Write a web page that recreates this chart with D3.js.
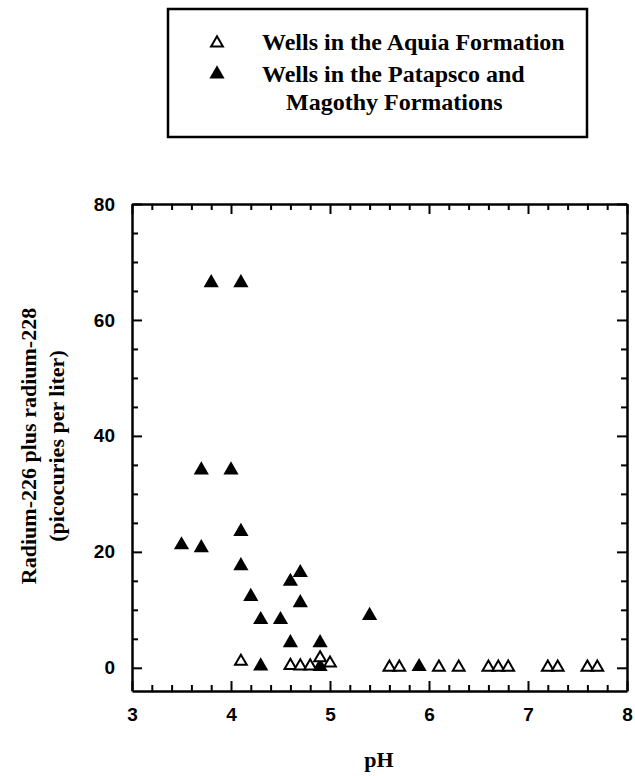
<!DOCTYPE html>
<html>
<head>
<meta charset="utf-8">
<script src="https://cdn.jsdelivr.net/npm/d3@7"></script>
<style>
  body { margin: 0; background: #fff; }
  svg { display: block; }
  .serif { font-family: "Liberation Serif", "Times New Roman", serif; font-weight: bold; fill: #000; }
  .tick text { font-family: "Liberation Sans", Arial, sans-serif; font-weight: bold; font-size: 19px; fill: #000; }
</style>
</head>
<body>
<div id="chart"></div>
<script>
// Wells in the Aquia Formation (open triangles)
const aquiaPH = [4.1, 4.6, 4.7, 4.8, 4.9, 5.0, 5.6, 5.7, 6.1, 6.3, 6.6, 6.7, 6.8, 7.2, 7.3, 7.6, 7.7];
const aquiaRa = [1.1, 0.4, 0.3, 0.3, 1.7, 0.8, 0.1, 0.1, 0.1, 0.1, 0.1, 0.1, 0.1, 0.1, 0.1, 0.1, 0.1];

// Wells in the Patapsco and Magothy Formations (filled triangles)
const pmPH = [3.5, 3.7, 3.7, 3.8, 4.0, 4.1, 4.1, 4.1, 4.2, 4.3, 4.3, 4.5, 4.6, 4.6, 4.7, 4.7, 4.9, 4.9, 5.4, 5.9];
const pmRa = [21.2, 20.7, 34.1, 66.4, 34.1, 66.4, 23.5, 17.6, 12.3, 8.3, 0.3, 8.3, 14.9, 4.3, 16.4, 11.2, 4.3, 0.2, 9.0, 0.2];

const xTicks = [3, 4, 5, 6, 7, 8];
const yTicks = [0, 20, 40, 60, 80];
const legendLabels = ['Wells in the Aquia Formation', 'Wells in the Patapsco and', 'Magothy Formations'];

const width = 635, height = 776;
const plot = { left: 132, right: 627, top: 204, bottom: 691 };

const svg = d3.select('#chart').append('svg')
    .attr('width', width)
    .attr('height', height);

const x = d3.scaleLinear().domain([3, 8]).range([plot.left, plot.right]);
const y = d3.scaleLinear().domain([-4, 80]).range([plot.bottom, plot.top]);

const xMinor = d3.range(3, 8.001, 0.2).filter(v => Math.abs(v - Math.round(v)) > 0.01);
const yMinor = d3.range(-0, 80.001, 5).filter(v => v % 20 !== 0);

// axes: ticks point inward on all four sides
function drawAxis(axisFn, scale, tr, major, minor, showLabels) {
    const gMinor = svg.append('g').attr('transform', tr)
        .call(axisFn(scale).tickValues(minor).tickSize(-6).tickSizeOuter(0).tickFormat(''));
    gMinor.select('.domain').remove();
    const g = svg.append('g').attr('transform', tr)
        .call(axisFn(scale).tickValues(major).tickSize(-10).tickSizeOuter(0)
            .tickPadding(showLabels ? 17 : 0)
            .tickFormat(showLabels ? d3.format('d') : ''));
    g.selectAll('line').attr('stroke', '#000').attr('stroke-width', 2);
    gMinor.selectAll('line').attr('stroke', '#000').attr('stroke-width', 2);
    g.select('.domain').attr('stroke', '#000').attr('stroke-width', 2.5);
    return g;
}

const gx = drawAxis(d3.axisBottom, x, `translate(0,${plot.bottom})`, xTicks, xMinor, true);
gx.selectAll('text').attr('dy', '0.71em').attr('y', 17);
drawAxis(d3.axisTop, x, `translate(0,${plot.top})`, xTicks, xMinor, false);
drawAxis(d3.axisLeft, y, `translate(${plot.left},0)`, yTicks, yMinor, true);
drawAxis(d3.axisRight, y, `translate(${plot.right},0)`, yTicks, yMinor, false);

// axis titles
svg.append('text').attr('class', 'serif')
    .attr('x', 379).attr('y', 767)
    .attr('text-anchor', 'middle')
    .attr('font-size', 22)
    .text('pH');

const yTitle = svg.append('text').attr('class', 'serif')
    .attr('transform', 'translate(0,446) rotate(-90)')
    .attr('text-anchor', 'middle')
    .attr('font-size', 22);
yTitle.append('tspan').attr('x', 0).attr('y', 36).text('Radium-226 plus radium-228');
yTitle.append('tspan').attr('x', 0).attr('y', 64).text('(picocuries per liter)');

// points
const triFilled = d3.symbol().type(d3.symbolTriangle).size(100);
const triOpen = d3.symbol().type(d3.symbolTriangle).size(60);

const pmData = pmPH.map((v, i) => ({ ph: v, ra: pmRa[i] }));
const aquiaData = aquiaPH.map((v, i) => ({ ph: v, ra: aquiaRa[i] }));

svg.append('g').selectAll('path')
    .data(pmData)
    .join('path')
    .attr('d', triFilled)
    .attr('transform', d => `translate(${x(d.ph)},${y(d.ra)})`)
    .attr('fill', '#000');

svg.append('g').selectAll('path')
    .data(aquiaData)
    .join('path')
    .attr('d', triOpen)
    .attr('transform', d => `translate(${x(d.ph)},${y(d.ra)})`)
    .attr('fill', '#fff')
    .attr('stroke', '#000')
    .attr('stroke-width', 2);

// legend
const legend = svg.append('g');
legend.append('rect')
    .attr('x', 168).attr('y', 9)
    .attr('width', 419).attr('height', 128)
    .attr('fill', 'none')
    .attr('stroke', '#000')
    .attr('stroke-width', 2.5);

legend.append('path').attr('d', triOpen)
    .attr('transform', 'translate(217,43)')
    .attr('fill', '#fff').attr('stroke', '#000').attr('stroke-width', 2);
legend.append('path').attr('d', triFilled)
    .attr('transform', 'translate(217,74)')
    .attr('fill', '#000');

legend.append('text').attr('class', 'serif').attr('font-size', 24)
    .attr('x', 262).attr('y', 50).text(legendLabels[0]);
legend.append('text').attr('class', 'serif').attr('font-size', 24)
    .attr('x', 262).attr('y', 82).text(legendLabels[1]);
legend.append('text').attr('class', 'serif').attr('font-size', 24)
    .attr('x', 286).attr('y', 110).text(legendLabels[2]);
</script>
</body>
</html>
